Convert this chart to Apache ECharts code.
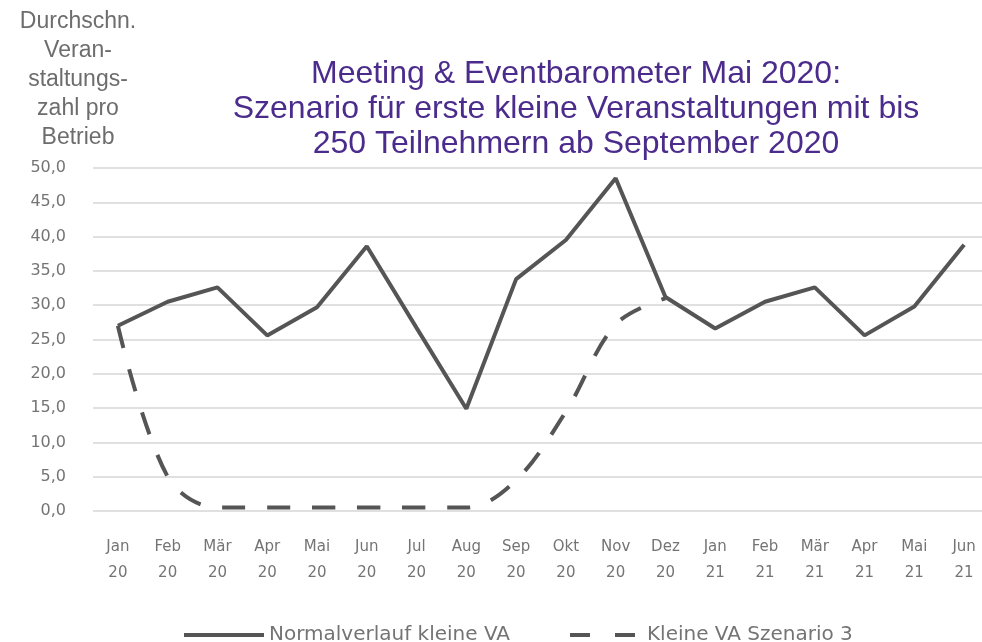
<!DOCTYPE html>
<html>
<head>
<meta charset="utf-8">
<script src="https://cdn.jsdelivr.net/npm/echarts@6/dist/echarts.min.js"></script>
<style>
  html, body { margin: 0; padding: 0; background: #fff; }
  #main { width: 982px; height: 642px; }
</style>
</head>
<body>
<div id="main"></div>
<script>
// Monate Jan 20 - Jun 21
var months = ['Jan\n20', 'Feb\n20', 'Mär\n20', 'Apr\n20', 'Mai\n20', 'Jun\n20', 'Jul\n20', 'Aug\n20', 'Sep\n20',
    'Okt\n20', 'Nov\n20', 'Dez\n20', 'Jan\n21', 'Feb\n21', 'Mär\n21', 'Apr\n21', 'Mai\n21', 'Jun\n21'];
var normalverlauf = [27.0, 30.5, 32.6, 25.6, 29.7, 38.6, 26.7, 14.9, 33.8, 39.5, 48.5, 31.2, 26.6, 30.5, 32.6, 25.6, 29.8, 38.8];
var szenario3 = [27.0, 5.0, 0.5, 0.5, 0.5, 0.5, 0.5, 0.5, 4.5, 14.5, 27.2, 31.0, null, null, null, null, null, null];
var seriesNames = ['Normalverlauf kleine VA', 'Kleine VA Szenario 3'];
var titleText = 'Meeting & Eventbarometer Mai 2020:\nSzenario für erste kleine Veranstaltungen mit bis\n250 Teilnehmern ab September 2020';
var yName = 'Durchschn.\nVeran-\nstaltungs-\nzahl pro\nBetrieb';

var wide = "'DejaVu Sans', Verdana, sans-serif";
var arial = "'Liberation Sans', Arial, sans-serif";
var lineColor = '#555555';
var tickColor = '#747474';

var myChart = echarts.init(document.getElementById('main'));

var option = {
    animation: false,
    title: [{
        text: titleText,
        left: 571,
        top: 52,
        textAlign: 'center',
        textStyle: {
            color: '#4b2c8c',
            fontFamily: arial,
            fontWeight: 'normal',
            fontSize: 32,
            lineHeight: 35
        }
    }, {
        // Achsentitel links oben
        text: yName,
        left: 73,
        top: 2,
        textAlign: 'center',
        textStyle: {
            color: '#6d6d6d',
            fontFamily: arial,
            fontWeight: 'normal',
            fontSize: 23,
            lineHeight: 29
        }
    }],
    legend: [{
        data: [seriesNames[0]],
        left: 177,
        top: 620,
        itemWidth: 80,
        itemHeight: 14,
        selectedMode: false,
        itemStyle: { opacity: 0 },
        lineStyle: { color: lineColor, width: 4, type: 'solid' },
        textStyle: { color: tickColor, fontFamily: wide, fontSize: 20 }
    }, {
        data: [seriesNames[1]],
        left: 563,
        top: 620,
        itemWidth: 67,
        itemHeight: 14,
        selectedMode: false,
        itemStyle: { opacity: 0 },
        lineStyle: { color: lineColor, width: 4, type: [20, 25] },
        textStyle: { color: tickColor, fontFamily: wide, fontSize: 20, padding: [0, 0, 0, 5] }
    }],
    grid: {
        left: 93,
        width: 896,
        top: 168,
        bottom: 131,
        outerBoundsMode: 'none'
    },
    xAxis: {
        type: 'category',
        data: months,
        boundaryGap: true,
        axisLine: { show: false },
        axisTick: { show: false },
        axisLabel: {
            interval: 0,
            margin: 23,
            color: tickColor,
            fontFamily: wide,
            fontSize: 15,
            lineHeight: 26
        }
    },
    yAxis: {
        type: 'value',
        min: 0,
        max: 50,
        interval: 5,
        axisLine: { show: false },
        axisTick: { show: false },
        axisLabel: {
            margin: 27,
            color: tickColor,
            fontFamily: wide,
            fontSize: 16,
            formatter: function (value) {
                return value.toFixed(1).replace('.', ',');
            }
        },
        splitLine: {
            lineStyle: { color: '#e0e0e0', width: 2 }
        }
    },
    series: [{
        name: seriesNames[0],
        type: 'line',
        data: normalverlauf,
        symbol: 'none',
        color: lineColor,
        lineStyle: { color: lineColor, width: 4 }
    }, {
        name: seriesNames[1],
        type: 'line',
        data: szenario3,
        symbol: 'none',
        smooth: 0.35,
        color: lineColor,
        lineStyle: { color: lineColor, width: 4, type: [23, 22] }
    }]
};

myChart.setOption(option);

window.onresize = function () {
    myChart.resize();
};
</script>
</body>
</html>
